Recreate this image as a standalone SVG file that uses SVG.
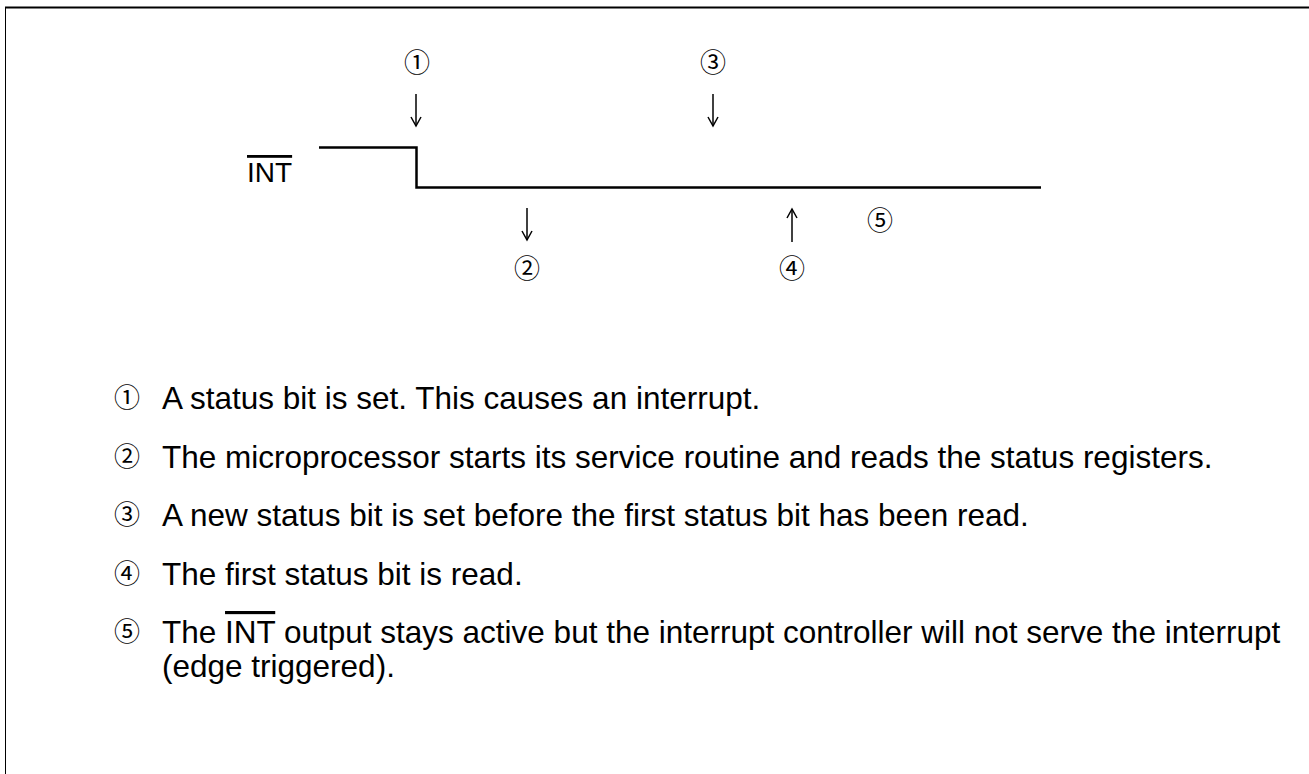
<svg xmlns="http://www.w3.org/2000/svg" width="1309" height="774" viewBox="0 0 1309 774">
<style>
.t{font-family:"Liberation Sans",Arial,"DejaVu Sans",sans-serif;fill:#000}
.n{font-family:"Noto Sans CJK JP","DejaVu Sans",sans-serif;fill:#000;text-anchor:middle;font-size:26px}
.sig{fill:none;stroke:#000;stroke-width:2.5}
.arr{fill:none;stroke:#000;stroke-width:1.5}
.ov{text-decoration:overline}
</style>
<defs>
<marker id="ah" markerWidth="12" markerHeight="12" refX="10" refY="6" orient="auto" markerUnits="userSpaceOnUse">
<path d="M1,1 L10,6 L1,11" fill="none" stroke="#000" stroke-width="1.5"/>
</marker>
</defs>
<g id="frame">
<line x1="5" y1="7.5" x2="1309" y2="7.5" stroke="#000" stroke-width="2"/>
<line x1="5.5" y1="7" x2="5.5" y2="774" stroke="#000" stroke-width="1"/>
</g>
<g id="signal">
<text class="t ov" x="247" y="182" font-size="28">INT</text>
<polyline class="sig" points="319,147.5 416.5,147.5 416.5,187.5 1041,187.5"/>
</g>
<g id="labels">
<text class="n" x="417" y="72">①</text>
<text class="n" x="713" y="72">③</text>
<text class="n" x="527" y="278">②</text>
<text class="n" x="792" y="278">④</text>
<text class="n" x="880" y="230">⑤</text>
</g>
<g id="connectors">
<line class="arr" x1="416" y1="94" x2="416" y2="126" marker-end="url(#ah)"/>
<line class="arr" x1="713" y1="94" x2="713" y2="126" marker-end="url(#ah)"/>
<line class="arr" x1="527" y1="208" x2="527" y2="240" marker-end="url(#ah)"/>
<line class="arr" x1="792" y1="242" x2="792" y2="209" marker-end="url(#ah)"/>
</g>
<g id="legend">
<text class="n" x="127" y="407">①</text>
<text class="t" x="162" y="409" font-size="31.5">A status bit is set. This causes an interrupt.</text>
<text class="n" x="127" y="465.5">②</text>
<text class="t" x="162" y="467.5" font-size="31.5">The microprocessor starts its service routine and reads the status registers.</text>
<text class="n" x="127" y="524">③</text>
<text class="t" x="162" y="526" font-size="31.5">A new status bit is set before the first status bit has been read.</text>
<text class="n" x="127" y="582.5">④</text>
<text class="t" x="162" y="584.5" font-size="31.5">The first status bit is read.</text>
<text class="n" x="127" y="641">⑤</text>
<text class="t" x="162" y="643" font-size="31.5">The <tspan class="ov">INT</tspan> output stays active but the interrupt controller will not serve the interrupt</text>
<text class="t" x="162" y="677" font-size="31.5">(edge triggered).</text>
</g>
</svg>
